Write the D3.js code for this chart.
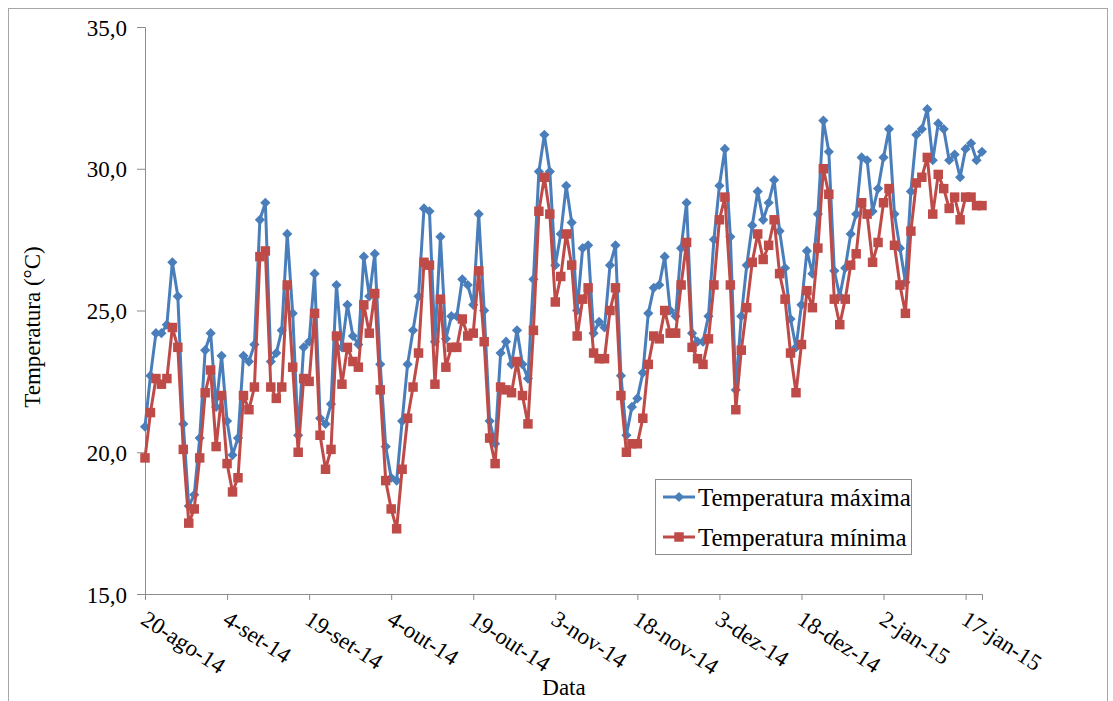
<!DOCTYPE html>
<html>
<head>
<meta charset="utf-8">
<script src="https://cdn.jsdelivr.net/npm/d3@7"></script>
<style>
  body { margin: 0; background: #fff; }
  svg text { font-family: "Liberation Serif", "DejaVu Serif", "Times New Roman", serif !important; fill: #000; }
</style>
</head>
<body>
<svg width="1113" height="701"></svg>
<script>
// daily series, 20-ago-14 .. 20-jan-15
var startDate = "2014-08-20",
    endDate = "2015-01-20";

var tMax = [
  20.9, 22.7, 24.2, 24.2, 24.5, 26.7, 25.5, 21.0, 18.1, 18.5,
  20.5, 23.6, 24.2, 21.6, 23.4, 21.1, 19.9, 20.5, 23.4, 23.2,
  23.8, 28.2, 28.8, 23.2, 23.5, 24.3, 27.7, 24.9, 20.6, 23.7,
  23.9, 26.3, 21.2, 21.0, 21.7, 25.9, 23.7, 25.2, 24.1, 23.8,
  26.9, 25.5, 27.0, 23.1, 20.2, 19.1, 19.0, 21.1, 23.1, 24.3,
  25.5, 28.6, 28.5, 23.9, 27.6, 24.0, 24.8, 24.8, 26.1, 25.9,
  25.2, 28.4, 25.0, 21.1, 20.3, 23.5, 23.9, 23.1, 24.3, 23.1,
  22.6, 26.1, 29.9, 31.2, 29.9, 26.6, 27.7, 29.4, 28.1, 25.0,
  27.2, 27.3, 24.2, 24.6, 24.4, 26.6, 27.3, 22.7, 20.6, 21.6,
  21.9, 22.8, 24.9, 25.8, 25.9, 26.9, 25.0, 24.8, 27.2, 28.8,
  24.2, 23.9, 23.9, 24.8, 27.5, 29.4, 30.7, 27.6, 22.2, 24.8,
  26.6, 28.0, 29.2, 28.2, 28.8, 29.6, 27.8, 26.5, 24.7, 23.7,
  25.2, 27.1, 26.3, 28.4, 31.7, 30.6, 26.4, 25.5, 26.5, 27.7,
  28.4, 30.4, 30.3, 28.5, 29.3, 30.4, 31.4, 28.4, 27.2, 26.0,
  29.2, 31.2, 31.4, 32.1, 30.3, 31.6, 31.4, 30.3, 30.5, 29.7,
  30.7, 30.9, 30.3, 30.6
];

var tMin = [
  19.8, 21.4, 22.6, 22.4, 22.6, 24.4, 23.7, 20.1, 17.5, 18.0,
  19.8, 22.1, 22.9, 20.2, 22.0, 19.6, 18.6, 19.1, 22.0, 21.5,
  22.3, 26.9, 27.1, 22.3, 21.9, 22.3, 25.9, 23.0, 20.0, 22.6,
  22.5, 24.9, 20.6, 19.4, 20.1, 24.1, 22.4, 23.7, 23.2, 23.0,
  25.2, 24.2, 25.6, 22.2, 19.0, 18.0, 17.3, 19.4, 21.2, 22.3,
  23.5, 26.7, 26.6, 22.4, 25.4, 23.0, 23.7, 23.7, 24.7, 24.1,
  24.2, 26.4, 23.9, 20.5, 19.6, 22.3, 22.2, 22.1, 23.2, 22.0,
  21.0, 24.3, 28.5, 29.7, 28.4, 25.3, 26.2, 27.7, 26.6, 24.1,
  25.4, 25.8, 23.5, 23.3, 23.3, 25.0, 25.8, 22.0, 20.0, 20.3,
  20.3, 21.2, 23.1, 24.1, 24.0, 25.0, 24.2, 24.2, 25.9, 27.4,
  23.7, 23.3, 23.1, 24.0, 25.9, 28.2, 29.0, 25.9, 21.5, 23.6,
  25.1, 26.7, 27.7, 26.8, 27.3, 28.2, 26.3, 25.4, 23.5, 22.1,
  23.8, 25.7, 25.1, 27.2, 30.0, 29.1, 25.4, 24.5, 25.4, 26.6,
  27.0, 28.8, 28.4, 26.7, 27.4, 28.8, 29.3, 27.3, 25.9, 24.9,
  27.8, 29.5, 29.7, 30.4, 28.4, 29.8, 29.3, 28.6, 29.0, 28.2,
  29.0, 29.0, 28.7, 28.7
];

var yTicks = [15, 20, 25, 30, 35];
var seriesNames = ["Temperatura máxima", "Temperatura mínima"];
var shortMonths = ["jan", "fev", "mar", "abr", "mai", "jun", "jul", "ago", "set", "out", "nov", "dez"];

var svg = d3.select("svg");
var serif = '"Liberation Serif", "DejaVu Serif", "Times New Roman", serif';

var blue = "#4a7ebb", red = "#be4b48", axisGray = "#8c8c8c";

var parse = d3.utcParse("%Y-%m-%d");
var t0 = parse(startDate), t1 = parse(endDate);
var days = d3.utcDay.range(t0, d3.utcDay.offset(t0, tMax.length));

var locale = d3.timeFormatLocale({
  dateTime: "%d/%m/%Y %H:%M:%S", date: "%d/%m/%Y", time: "%H:%M:%S",
  periods: ["AM", "PM"],
  days: ["domingo", "segunda", "terça", "quarta", "quinta", "sexta", "sábado"],
  shortDays: ["dom", "seg", "ter", "qua", "qui", "sex", "sáb"],
  months: ["janeiro", "fevereiro", "março", "abril", "maio", "junho", "julho", "agosto", "setembro", "outubro", "novembro", "dezembro"],
  shortMonths: shortMonths
});
var fmtDate = locale.utcFormat("%-d-%b-%y");

var x = d3.scaleUtc().domain([t0, t1]).range([145, 982]);
var y = d3.scaleLinear().domain([15, 35]).range([594, 27]);

// chart border
svg.append("rect")
  .attr("x", 8.5).attr("y", 8.5)
  .attr("width", 1099).attr("height", 720)
  .attr("fill", "none").attr("stroke", "#a6a6a6").attr("stroke-width", 1);

// y axis
var yAxis = svg.append("g")
  .attr("transform", "translate(145,0)")
  .call(d3.axisLeft(y).tickValues(yTicks).tickSize(8).tickPadding(10)
    .tickFormat(function(d) { return d3.format(".1f")(d).replace(".", ","); }));
yAxis.attr("font-family", serif);
yAxis.select(".domain").attr("stroke", axisGray);
yAxis.selectAll(".tick line").attr("stroke", axisGray);
yAxis.selectAll(".tick text").style("font-size", "23px").attr("dy", "0.35em");

// x axis
var xTicks = d3.utcDay.range(t0, t1, 15);
var xAxis = svg.append("g")
  .attr("transform", "translate(0,594)")
  .call(d3.axisBottom(x).tickValues(xTicks).tickSizeOuter(0).tickSize(6)
    .tickFormat(fmtDate));
xAxis.attr("font-family", serif);
xAxis.select(".domain").attr("stroke", axisGray);
xAxis.selectAll(".tick line").attr("stroke", axisGray);
xAxis.selectAll(".tick text")
  .style("font-size", "23px")
  .attr("text-anchor", "start")
  .attr("y", 0).attr("dy", 0)
  .attr("transform", "translate(-6,29) rotate(33)");

// axis titles
svg.append("text")
  .attr("transform", "translate(40,327) rotate(-90)")
  .attr("text-anchor", "middle")
  .attr("font-family", serif)
  .style("font-size", "23px")
  .text("Temperatura (°C)");

svg.append("text")
  .attr("x", 564).attr("y", 695)
  .attr("text-anchor", "middle")
  .attr("font-family", serif)
  .style("font-size", "23px")
  .text("Data");

// series
var series = [
  { name: seriesNames[0], values: tMax, color: blue, shape: "diamond" },
  { name: seriesNames[1], values: tMin, color: red, shape: "square" }
];

var line = d3.line()
  .x(function(d, i) { return x(days[i]); })
  .y(function(d) { return y(d); });

var diamond = d3.symbol(d3.symbolSquare, 52)(),
    square = d3.symbol(d3.symbolSquare, 90)();

series.forEach(function(s) {
  var g = svg.append("g");
  g.append("path")
    .attr("d", line(s.values))
    .attr("fill", "none")
    .attr("stroke", s.color)
    .attr("stroke-width", 3)
    .attr("stroke-linejoin", "round");
  g.selectAll("path.mark")
    .data(s.values)
    .enter().append("path")
    .attr("class", "mark")
    .attr("d", s.shape === "diamond" ? diamond : square)
    .attr("fill", s.color)
    .attr("transform", function(d, i) {
      return "translate(" + x(days[i]) + "," + y(d) + ")" + (s.shape === "diamond" ? " rotate(45)" : "");
    });
});

// legend
var legend = svg.append("g").attr("transform", "translate(655,479)");
legend.append("rect")
  .attr("x", 0.5).attr("y", 0.5)
  .attr("width", 256).attr("height", 75)
  .attr("fill", "#fff").attr("stroke", axisGray);

series.forEach(function(s, k) {
  var row = legend.append("g").attr("transform", "translate(0," + (18 + k * 40) + ")");
  row.append("line")
    .attr("x1", 8).attr("x2", 40)
    .attr("stroke", s.color).attr("stroke-width", 3);
  row.append("path")
    .attr("d", s.shape === "diamond" ? diamond : square)
    .attr("fill", s.color)
    .attr("transform", "translate(24,0)" + (s.shape === "diamond" ? " rotate(45)" : ""));
  row.append("text")
    .attr("x", 43).attr("dy", "0.35em")
    .attr("font-family", serif)
    .style("font-size", "25px")
    .text(s.name);
});
</script>
</body>
</html>
